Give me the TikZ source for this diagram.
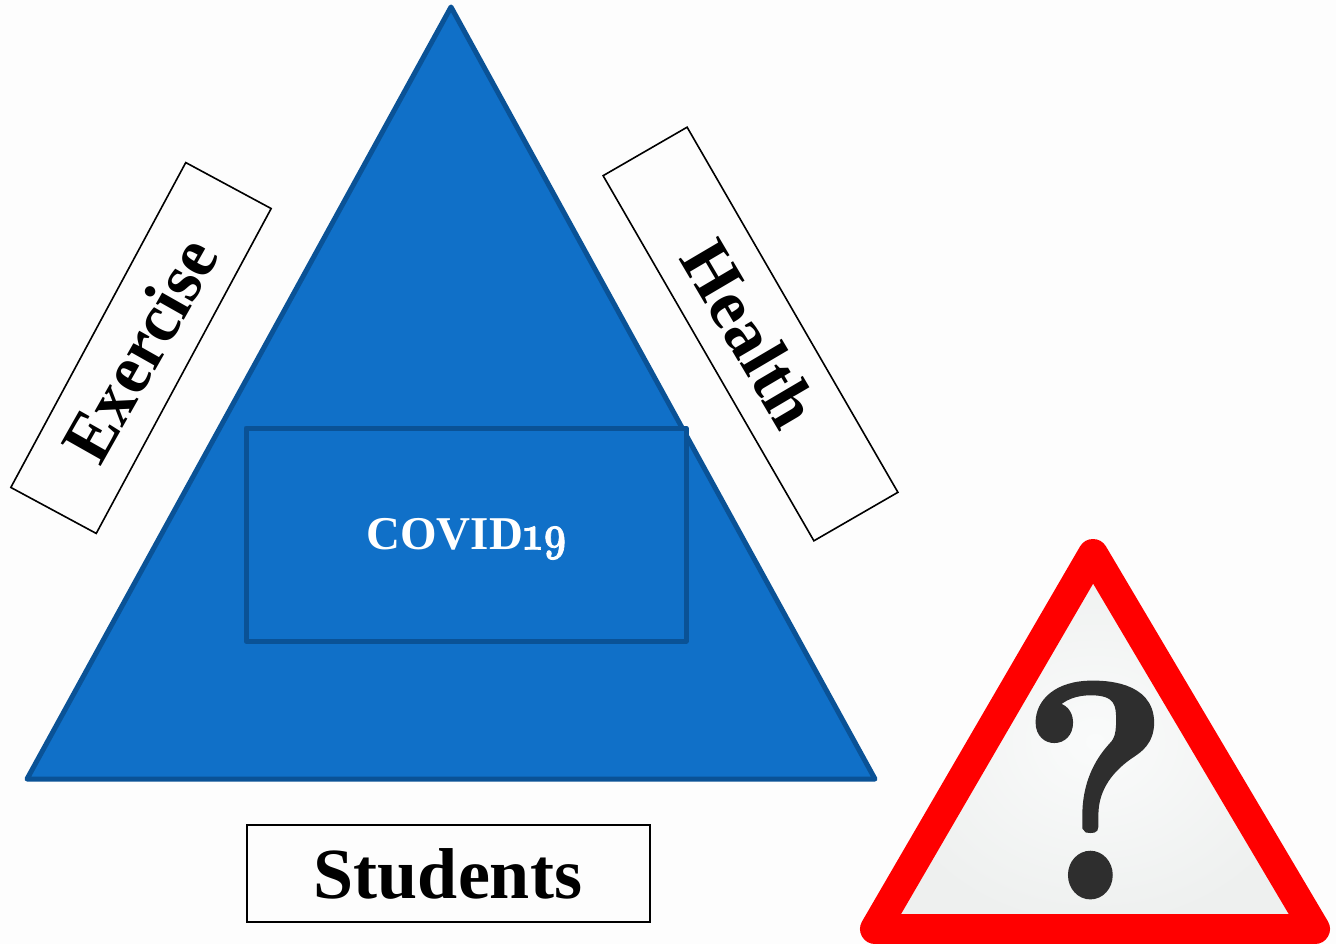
\documentclass[tikz,border=0pt]{standalone}
\usepackage{fontspec}
\setmainfont{Liberation Serif}
\newfontfamily\lmold[Numbers=OldStyle,FakeBold=1.6]{Latin Modern Roman}
\newfontfamily\lmmark[FakeBold=1.5]{Latin Modern Roman}
\definecolor{bluefill}{HTML}{1070C8}
\definecolor{blueline}{HTML}{0A5296}
\definecolor{signgrey}{HTML}{EEF0EF}
\definecolor{signlight}{HTML}{FAFBFB}
\definecolor{markgrey}{HTML}{2E2E2E}
\definecolor{pagetone}{HTML}{FDFDFD}
\tikzset{
  x=1pt,y=-1pt,
  labelbox/.style={draw=black,line width=1.6pt,fill=none,inner sep=0pt},
  labeltext/.style={text=black,inner sep=0pt,font=\fontsize{70}{70}\selectfont\bfseries},
  bluestroke/.style={draw=blueline,line width=5pt,line join=round,fill=bluefill},
}
\begin{document}
\begin{tikzpicture}
\path[use as bounding box,fill=pagetone] (0,0) rectangle (1336,944);
% big triangle
\coordinate (apex) at (451,7);
\coordinate (bl) at (27,779);
\coordinate (br) at (875,779);
\draw[bluestroke] (apex) -- (br) -- (bl) -- cycle;
\node[draw=blueline,line width=5pt,line join=round,fill=bluefill,minimum width=440pt,minimum height=213pt,inner sep=0pt] (covid) at (466,534.5) {};
\node[text=white,inner sep=0pt,font=\fontsize{47}{47}\selectfont\bfseries] (covidtext) at (467,539)
  {COVID{\lmold\fontsize{50}{50}\selectfont\scalebox{.8}[1]{19}}};
% label boxes
\node[labelbox,minimum width=403pt,minimum height=97pt] (students) at (448.5,873.5) {};
\node[labeltext,font=\fontsize{72}{72}\selectfont\bfseries] (studentstext) at (448,874) {Students};
\node[labelbox,minimum width=369pt,minimum height=97pt,rotate=61.7] (exercise) at (141,348) {};
\node[labeltext,rotate=60.5] (exercisetext) at (139.5,350) {\scalebox{.97}[1]{Exercise}};
\node[labelbox,minimum width=421.6pt,minimum height=97pt,rotate=-60] (health) at (750.5,334) {};
\node[labeltext,rotate=-59.5] (healthtext) at (750,333.5) {Health};
% warning sign
\coordinate (sa) at (1093,554);
\coordinate (sb) at (875,929);
\coordinate (sc) at (1315,929);
\draw[red,line width=30pt,line join=round,inner color=signlight,outer color=signgrey] (sa) -- (sc) -- (sb) -- cycle;
\node[text=markgrey,font=\lmmark\fontsize{306}{306}\selectfont\bfseries,inner sep=0pt] (mark) at (1095,790) {\scalebox{.92}[1]{?}};
\end{tikzpicture}
\end{document}
